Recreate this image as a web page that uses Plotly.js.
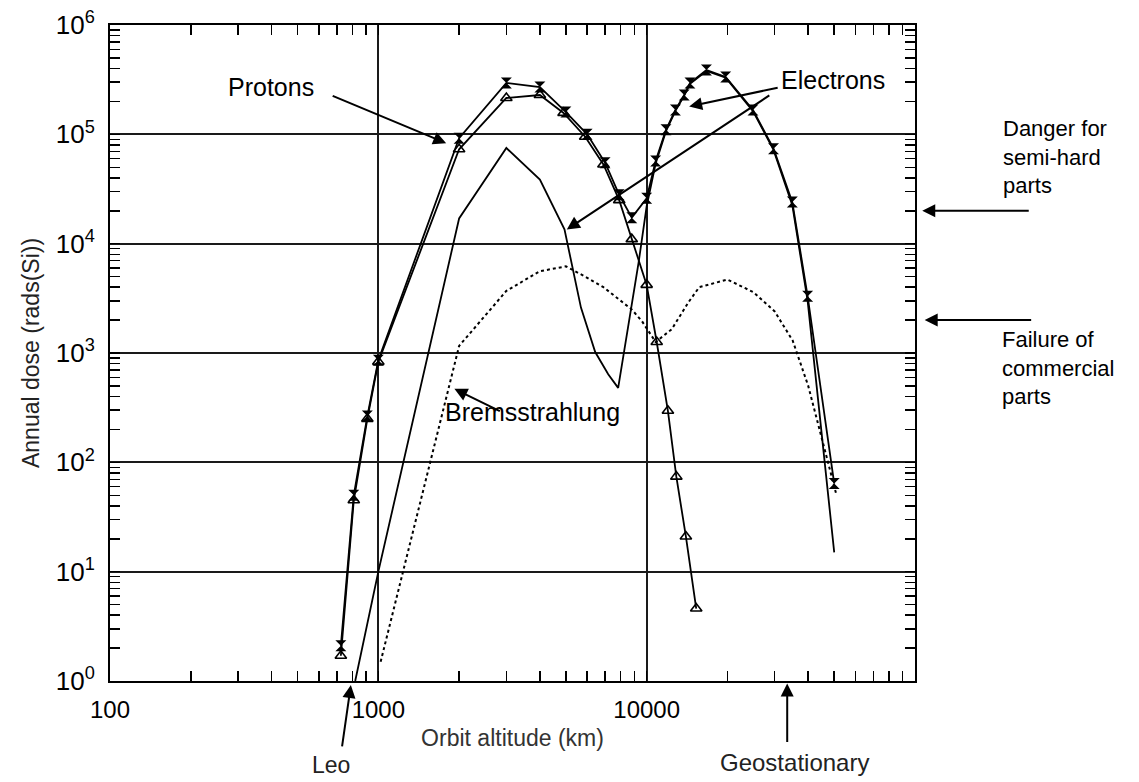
<!DOCTYPE html>
<html>
<head>
<meta charset="utf-8">
<script src="https://cdn.plot.ly/plotly-3.0.1.min.js"></script>
<style>html,body{margin:0;padding:0;background:#fff;}#chart{width:1139px;height:782px;}</style>
</head>
<body>
<div id="chart"></div>
<script>
// Orbit altitude (km) and annual dose (rads(Si))
const totalAlt = [725, 810, 910, 1000, 2000, 3000, 4000, 5000, 6000, 7000, 7900, 8800, 10000, 10800, 11800, 12800, 13800, 14500, 16700, 19700, 24900, 29700, 34900, 39800, 50000];
const totalDose = [2.1, 50, 265, 860, 92000, 295000, 271000, 160000, 100000, 55000, 28000, 17300, 26000, 57000, 110000, 167000, 229000, 295000, 387000, 335000, 167000, 74000, 24000, 3300, 64];

const protonAlt = [725, 810, 910, 1000, 2000, 3000, 4000, 4900, 5900, 6900, 7900, 8800, 10000, 10900, 12000, 12900, 14000, 15300];
const protonDose = [1.7, 45, 250, 830, 73000, 215000, 229000, 157000, 95000, 53000, 25000, 11000, 4200, 1260, 296, 74, 21, 4.6];

const electronAlt = [820, 1000, 2000, 3000, 4000, 4940, 5690, 6430, 7190, 7830, 9330, 10000, 10800, 11800, 12800, 13800, 14500, 16700, 19700, 24900, 29700, 34900, 39800, 50000];
const electronDose = [1.0, 10, 17000, 75000, 38500, 13500, 2600, 1020, 640, 480, 6700, 22000, 54000, 107000, 164000, 226000, 290000, 380000, 330000, 163000, 72000, 22500, 3000, 15];

const bremsAlt = [1020, 2000, 3000, 4000, 5000, 5900, 6900, 7900, 8800, 9600, 10800, 12400, 14300, 15700, 20000, 25000, 30000, 35000, 40000, 51000];
const bremsDose = [1.5, 1160, 3700, 5600, 6200, 5000, 4000, 3100, 2500, 1960, 1260, 1650, 2900, 4000, 4700, 3600, 2400, 1300, 500, 50];

const xTickVals = [100, 1000, 10000];
const xTickText = ['100', '1000', '10000'];
const yTickVals = [1, 10, 100, 1000, 10000, 100000, 1000000];
const yTickText = ['10<sup>0</sup>', '10<sup>1</sup>', '10<sup>2</sup>', '10<sup>3</sup>', '10<sup>4</sup>', '10<sup>5</sup>', '10<sup>6</sup>'];

const FONT = 'Liberation Sans, Arial, Helvetica, sans-serif';

const traces = [
  {x: electronAlt, y: electronDose, mode: 'lines', line: {color: '#000', width: 1.8}, name: 'Electrons'},
  {x: bremsAlt, y: bremsDose, mode: 'lines', line: {color: '#000', width: 2, dash: 'dot'}, name: 'Bremsstrahlung'},
  {x: protonAlt, y: protonDose, mode: 'lines+markers', line: {color: '#000', width: 1.8},
   marker: {symbol: 'triangle-up-open', size: 10, color: '#000', line: {width: 1.6, color: '#000'}}, name: 'Protons'},
  {x: totalAlt, y: totalDose, mode: 'lines+markers', line: {color: '#000', width: 1.8},
   marker: {symbol: 'hourglass', size: 11, color: '#000'}, name: 'Total'}
];

function arrow(x, y, ax, ay, xref, yref) {
  return {x: x, y: y, xref: xref || 'x', yref: yref || 'y', ax: ax, ay: ay, text: '',
    showarrow: true, arrowhead: 2, arrowsize: 1.3, arrowwidth: 2, arrowcolor: '#000'};
}
function label(text, px, py, xanchor, size, color) {
  return {text: text, xref: 'paper', yref: 'paper', x: (px - 110) / 805, y: (681 - py) / 656,
    xanchor: xanchor || 'center', yanchor: 'middle', align: xanchor === 'left' ? 'left' : 'center',
    showarrow: false, font: {family: FONT, size: size || 25, color: color || '#000'}};
}

const annotations = [
  label('Protons', 271, 87),
  arrow(Math.log10(1790), Math.log10(83000), -115, -48),
  label('Electrons', 833, 80),
  arrow(Math.log10(14400), Math.log10(180000), 90, -19),
  arrow(Math.log10(5040), Math.log10(13500), 204, -135),
  label('Bremsstrahlung', 443, 412, 'left'),
  arrow(Math.log10(1920), Math.log10(470), 47, 23),
  label('Leo', 331, 765, 'center', 23, '#222'),
  arrow(Math.log10(790), -0.006, -9, 63, 'x', 'paper'),
  label('Geostationary', 794, 762, 'center', 24, '#222'),
  arrow(Math.log10(33400), -0.004, 0, 60, 'x', 'paper'),
  label('Danger for<br>semi-hard<br>parts', 1001, 157, 'left', 22),
  arrow(1.009, Math.log10(20000), 108, 0, 'paper', 'y'),
  label('Failure of<br>commercial<br>parts', 1000, 368, 'left', 22),
  arrow(1.012, Math.log10(2000), 108, 0, 'paper', 'y')
];

const axisCommon = {
  type: 'log', showline: true, linecolor: '#000', linewidth: 2, mirror: 'allticks',
  ticks: 'inside', ticklen: 10, tickwidth: 1.5, tickcolor: '#000',
  showgrid: true, gridcolor: '#1a1a1a', gridwidth: 2, zeroline: false,
  minor: {dtick: 'D1', ticks: 'inside', ticklen: 10, tickwidth: 1.5, tickcolor: '#000', showgrid: false}
};

const layout = {
  width: 1139, height: 782,
  margin: {l: 110, r: 224, t: 25, b: 101},
  paper_bgcolor: '#fff', plot_bgcolor: '#fff',
  showlegend: false,
  font: {family: FONT, color: '#000'},
  xaxis: Object.assign({}, axisCommon, {
    range: [2, 5], tickmode: 'array', tickvals: xTickVals, ticktext: xTickText,
    ticklabelstandoff: 6,
    tickfont: {family: FONT, size: 24, color: '#000'},
    title: {text: 'Orbit altitude (km)', font: {family: FONT, size: 23, color: '#333'}, standoff: 8}
  }),
  yaxis: Object.assign({}, axisCommon, {
    range: [0, 6], tickmode: 'array', tickvals: yTickVals, ticktext: yTickText,
    ticklabelstandoff: 8,
    tickfont: {family: FONT, size: 26, color: '#000'},
    title: {text: 'Annual dose (rads(Si))', font: {family: FONT, size: 23, color: '#222'}, standoff: 10}
  }),
  annotations: annotations
};

Plotly.newPlot('chart', traces, layout, {displayModeBar: false, staticPlot: true});
</script>
</body>
</html>
